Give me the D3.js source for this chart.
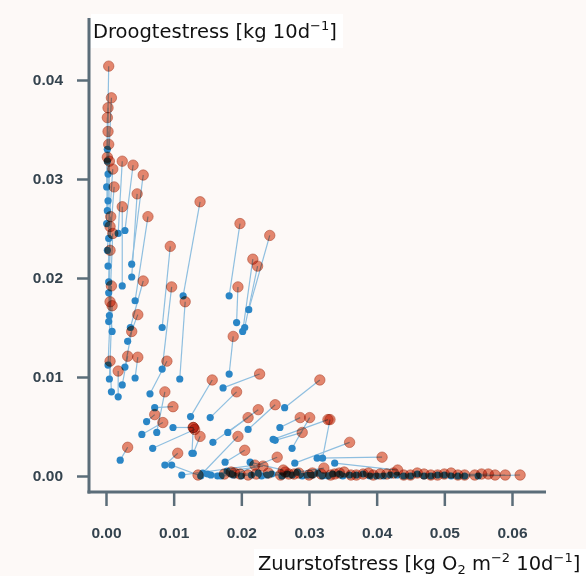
<!DOCTYPE html>
<html>
<head>
<meta charset="utf-8">
<script src="https://cdn.jsdelivr.net/npm/d3@7"></script>
<style>
  body { margin: 0; background: #fdf9f7; }
  svg { display: block; }
</style>
</head>
<body>
<div id="chart"></div>
<script>
// Each pair: blue point (before) -> red point (after)
const blueX = [0.0002, 0.0003, 0.0001, 0.0003, 0.0004, 0.0002, 0.0003, 0.0005, 0.0004, 0.0003, 0.0005, 0.0008, 0.0002, 0.0004,
    0.0018, 0.0028, 0.0038, 0.0038, 0.0043, 0.0024, 0.0009, 0.0032, 0.0024, 0.0043, 0.0018, 0.0028, 0.0036,
    0.0083, 0.0114, 0.0109, 0.0083, 0.0065,
    0.0182, 0.0211, 0.0193, 0.0202, 0.0205, 0.0182,
    0.0173, 0.0154, 0.0264, 0.0257, 0.0275, 0.0210, 0.0180, 0.0158, 0.0125, 0.0247, 0.0279, 0.0312, 0.0338, 0.0176,
    0.0143, 0.0129, 0.0099, 0.0053, 0.0072, 0.0069, 0.0021, 0.0087, 0.0097, 0.0112, 0.0188, 0.0320, 0.0075, 0.0060, 0.0127,
    0.0140, 0.0155, 0.0170, 0.0185, 0.0200, 0.0215, 0.0230, 0.0245, 0.0260, 0.0275, 0.0290, 0.0305, 0.0320, 0.0335,
    0.0350, 0.0370, 0.0390, 0.0410, 0.0430, 0.0450, 0.0470, 0.0490, 0.0510, 0.0530, 0.0550,
    0.0150, 0.0165, 0.0179, 0.0213, 0.0225, 0.0238, 0.0250, 0.0268, 0.0283, 0.0298, 0.0313, 0.0328, 0.0345,
    0.0360, 0.0380, 0.0400, 0.0420, 0.0440, 0.0460, 0.0480, 0.0500, 0.0520, 0.0002, 0.0004, 0.0001];
const blueY = [0.0330, 0.0305, 0.0292, 0.0278, 0.0240, 0.0228, 0.0212, 0.0162, 0.0156, 0.0112, 0.0098, 0.0085, 0.0268, 0.0196,
    0.0245, 0.0248, 0.0214, 0.0201, 0.0177, 0.0192, 0.0146, 0.0136, 0.0092, 0.0099, 0.0080, 0.0110, 0.0150,
    0.0150, 0.0182, 0.0098, 0.0108, 0.0083,
    0.0182, 0.0168, 0.0155, 0.0146, 0.0150, 0.0103,
    0.0089, 0.0059, 0.0069, 0.0049, 0.0028, 0.0047, 0.0044, 0.0034, 0.0060, 0.0037, 0.0013, 0.0018, 0.0013, 0.0014,
    0.0003, 0.0023, 0.0049, 0.0042, 0.0069, 0.0028, 0.0016, 0.0011, 0.0011, 0.0001, 0.0001, 0.0018, 0.0044, 0.0055, 0.0023,
    0.0000, 0.0001, 0.0000, 0.0002, 0.0000, 0.0001, 0.0000, 0.0002, 0.0000, 0.0001, 0.0000, 0.0001, 0.0000, 0.0002,
    0.0000, 0.0001, 0.0000, 0.0000, 0.0001, 0.0000, 0.0000, 0.0001, 0.0000, 0.0000, 0.0000,
    0.0002, 0.0000, 0.0005, 0.0014, 0.0003, 0.0001, 0.0036, 0.0002, 0.0004, 0.0001, 0.0003, 0.0000, 0.0002,
    0.0001, 0.0002, 0.0000, 0.0001, 0.0000, 0.0002, 0.0000, 0.0001, 0.0000, 0.0318, 0.0185, 0.0255];
const redX = [0.0004, 0.0008, 0.0002, 0.0003, 0.0005, 0.0010, 0.0012, 0.0010, 0.0006, 0.0008, 0.0009, 0.0006, 0.0004, 0.0007,
    0.0024, 0.0040, 0.0055, 0.0046, 0.0062, 0.0024, 0.0006, 0.0047, 0.0032, 0.0047, 0.0018, 0.0038, 0.0055,
    0.0095, 0.0139, 0.0117, 0.0097, 0.0090,
    0.0198, 0.0242, 0.0195, 0.0217, 0.0224, 0.0188,
    0.0227, 0.0193, 0.0316, 0.0287, 0.0301, 0.0250, 0.0225, 0.0210, 0.0157, 0.0328, 0.0360, 0.0408, 0.0431, 0.0205,
    0.0195, 0.0139, 0.0129, 0.0084, 0.0099, 0.0131, 0.0032, 0.0106, 0.0136, 0.0220, 0.0253, 0.0331, 0.0087, 0.0072, 0.0129,
    0.0175, 0.0190, 0.0210, 0.0222, 0.0240, 0.0258, 0.0270, 0.0285, 0.0300, 0.0318, 0.0332, 0.0345, 0.0362, 0.0380,
    0.0395, 0.0415, 0.0440, 0.0460, 0.0480, 0.0500, 0.0520, 0.0545, 0.0565, 0.0590, 0.0612,
    0.0185, 0.0198, 0.0232, 0.0262, 0.0265, 0.0278, 0.0290, 0.0305, 0.0322, 0.0338, 0.0352, 0.0370, 0.0388,
    0.0405, 0.0425, 0.0450, 0.0470, 0.0490, 0.0510, 0.0530, 0.0555, 0.0575, 0.0003, 0.0006, 0.0002];
const redY = [0.0414, 0.0382, 0.0362, 0.0348, 0.0318, 0.0310, 0.0292, 0.0245, 0.0228, 0.0192, 0.0172, 0.0116, 0.0335, 0.0262,
    0.0318, 0.0314, 0.0304, 0.0285, 0.0262, 0.0272, 0.0176, 0.0163, 0.0121, 0.0120, 0.0106, 0.0146, 0.0197,
    0.0232, 0.0277, 0.0176, 0.0191, 0.0116,
    0.0255, 0.0243, 0.0191, 0.0219, 0.0212, 0.0141,
    0.0103, 0.0085, 0.0097, 0.0059, 0.0059, 0.0072, 0.0067, 0.0059, 0.0097, 0.0057, 0.0034, 0.0019, 0.0006, 0.0026,
    0.0040, 0.0040, 0.0049, 0.0054, 0.0070, 0.0047, 0.0029, 0.0023, 0.0001, 0.0011, 0.0019, 0.0057, 0.0085, 0.0062, 0.0049,
    0.0002, 0.0003, 0.0001, 0.0002, 0.0003, 0.0001, 0.0002, 0.0003, 0.0001, 0.0002, 0.0001, 0.0003, 0.0001, 0.0002,
    0.0001, 0.0002, 0.0001, 0.0003, 0.0001, 0.0002, 0.0001, 0.0001, 0.0002, 0.0001, 0.0001,
    0.0004, 0.0002, 0.0010, 0.0006, 0.0004, 0.0002, 0.0044, 0.0003, 0.0008, 0.0002, 0.0004, 0.0001, 0.0003,
    0.0002, 0.0003, 0.0001, 0.0002, 0.0001, 0.0003, 0.0001, 0.0002, 0.0001, 0.0372, 0.0252, 0.0322];

const xTicks = [0, 0.01, 0.02, 0.03, 0.04, 0.05, 0.06];
const yTicks = [0, 0.01, 0.02, 0.03, 0.04];

const width = 586, height = 576;

const svg = d3.select("#chart").append("svg")
    .attr("width", width)
    .attr("height", height);

svg.append("rect")
    .attr("width", width)
    .attr("height", height)
    .attr("fill", "#fdf9f7");

// Scales
const x = d3.scaleLinear().domain([0, 0.06]).range([106, 512]);
const y = d3.scaleLinear().domain([0, 0.04]).range([476, 80]);

const pairs = blueX.map((d, i) => ({ bx: d, by: blueY[i], rx: redX[i], ry: redY[i] }));

// Axes
const axisColor = "#5b6d79";
const labelColor = "#34434e";

const yAxis = svg.append("g")
    .attr("transform", "translate(89,0)")
    .call(d3.axisLeft(y).tickValues(yTicks).tickFormat(d3.format(".2f")).tickSize(12).tickPadding(14));
const xAxis = svg.append("g")
    .attr("transform", "translate(0,492)")
    .call(d3.axisBottom(x).tickValues(xTicks).tickFormat(d3.format(".2f")).tickSize(14).tickPadding(21));

[xAxis, yAxis].forEach(a => {
    a.select(".domain").remove();
    a.selectAll(".tick line").attr("stroke", axisColor).attr("stroke-width", 2.5);
    a.selectAll(".tick text")
        .attr("fill", labelColor)
        .style("font-family", "'Liberation Sans', Arial, sans-serif")
        .style("font-size", "15.5px")
        .style("font-weight", "bold");
});

// axis lines, drawn longer than the data range
svg.append("line")
    .attr("x1", 89).attr("x2", 89)
    .attr("y1", 18).attr("y2", 493.5)
    .attr("stroke", axisColor).attr("stroke-width", 3);
svg.append("line")
    .attr("x1", 87.5).attr("x2", 546)
    .attr("y1", 492).attr("y2", 492)
    .attr("stroke", axisColor).attr("stroke-width", 3);

// connecting lines
svg.append("g").selectAll("line")
    .data(pairs)
    .enter().append("line")
    .attr("x1", d => x(d.bx)).attr("y1", d => y(d.by))
    .attr("x2", d => x(d.rx)).attr("y2", d => y(d.ry))
    .attr("stroke", "#8fbfe0")
    .attr("stroke-width", 1.2);

// blue points
svg.append("g").selectAll("circle")
    .data(pairs)
    .enter().append("circle")
    .attr("cx", d => x(d.bx))
    .attr("cy", d => y(d.by))
    .attr("r", 3.6)
    .attr("fill", "#2b86c6");

// red points, multiplied so that overlaps darken as in the original
svg.append("g").selectAll("circle")
    .data(pairs)
    .enter().append("circle")
    .attr("cx", d => x(d.rx))
    .attr("cy", d => y(d.ry))
    .attr("r", 5.2)
    .attr("fill", "#e07458")
    .attr("fill-opacity", 0.85)
    .attr("stroke", "#b24c35")
    .attr("stroke-opacity", 0.6)
    .attr("stroke-width", 1)
    .style("mix-blend-mode", "multiply");

// axis titles on white boxes
const titleFont = "'DejaVu Sans', Verdana, sans-serif";

svg.append("rect")
    .attr("x", 91).attr("y", 14)
    .attr("width", 252).attr("height", 34)
    .attr("fill", "#ffffff");
const yTitle = svg.append("text")
    .attr("x", 93).attr("y", 38)
    .style("font-family", titleFont)
    .style("font-size", "19.5px")
    .attr("fill", "#111");
yTitle.append("tspan").text("Droogtestress [kg 10d");
yTitle.append("tspan").attr("dy", -8).style("font-size", "13px").text("\u22121");
yTitle.append("tspan").attr("dy", 8).text("]");

svg.append("rect")
    .attr("x", 254).attr("y", 549)
    .attr("width", 332).attr("height", 27)
    .attr("fill", "#ffffff");
const xTitle = svg.append("text")
    .attr("x", 258).attr("y", 570)
    .style("font-family", titleFont)
    .style("font-size", "19.5px")
    .attr("fill", "#111");
xTitle.append("tspan").text("Zuurstofstress [kg O");
xTitle.append("tspan").attr("dy", 4).style("font-size", "13px").text("2");
xTitle.append("tspan").attr("dy", -4).text(" m");
xTitle.append("tspan").attr("dy", -8).style("font-size", "13px").text("\u22122");
xTitle.append("tspan").attr("dy", 8).text(" 10d");
xTitle.append("tspan").attr("dy", -8).style("font-size", "13px").text("\u22121");
xTitle.append("tspan").attr("dy", 8).text("]");
</script>
</body>
</html>
